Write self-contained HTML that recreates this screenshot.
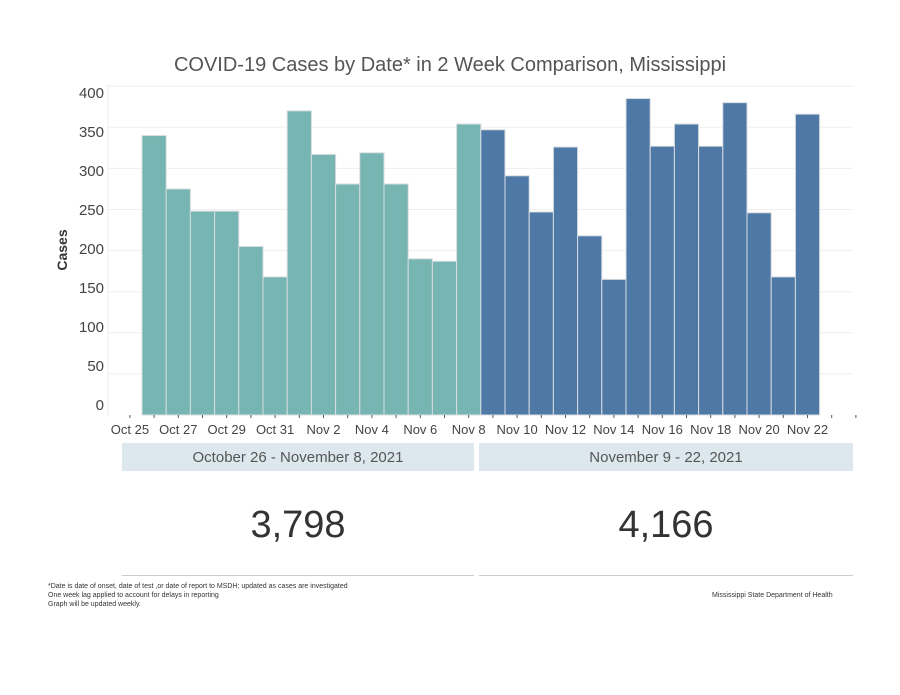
<!DOCTYPE html>
<html><head><meta charset="utf-8"><style>
body{margin:0;background:#fff;font-family:"Liberation Sans",sans-serif;}
#wrap{position:relative;width:900px;height:695px;overflow:hidden;}
.t{position:absolute;color:#555;}
</style></head><body>
<div id="wrap">
<div class="t" style="left:0;width:900px;top:54px;text-align:center;font-size:20px;color:#555;">COVID-19 Cases by Date* in 2 Week Comparison, Mississippi</div>
<svg id="chart" width="900" height="440" style="position:absolute;left:0;top:0"></svg>
<div class="t" style="left:122px;top:443px;width:352px;height:28px;background:#dde8ee;text-align:center;line-height:30px;font-size:15px;">October 26 - November 8, 2021</div>
<div class="t" style="left:479px;top:443px;width:374px;height:28px;background:#dde8ee;text-align:center;line-height:30px;font-size:15px;">November 9 - 22, 2021</div>
<div class="t" style="left:122px;top:504px;width:352px;text-align:center;font-size:38px;color:#333;">3,798</div>
<div class="t" style="left:479px;top:504px;width:374px;text-align:center;font-size:38px;color:#333;">4,166</div>
<div style="position:absolute;left:122px;top:575px;width:352px;height:1px;background:#ccc"></div>
<div style="position:absolute;left:479px;top:575px;width:374px;height:1px;background:#ccc"></div>
<div class="t" style="left:48px;top:582px;font-size:7px;line-height:9px;color:#333;">*Date is date of onset, date of test ,or date of report to MSDH; updated as cases are investigated<br>One week lag applied to account for delays in reporting<br>Graph will be updated weekly.</div>
<div class="t" style="left:712px;top:592px;font-size:7px;color:#333;">Mississippi State Department of Health</div>
</div>
<script>
const dates=["Oct 26","Oct 27","Oct 28","Oct 29","Oct 30","Oct 31","Nov 1","Nov 2","Nov 3","Nov 4","Nov 5","Nov 6","Nov 7","Nov 8","Nov 9","Nov 10","Nov 11","Nov 12","Nov 13","Nov 14","Nov 15","Nov 16","Nov 17","Nov 18","Nov 19","Nov 20","Nov 21","Nov 22"];
const cases=[340,275,248,248,205,168,370,317,281,319,281,190,187,354,347,291,247,326,218,165,385,327,354,327,380,246,168,366];
const period=[0,0,0,0,0,0,0,0,0,0,0,0,0,0,1,1,1,1,1,1,1,1,1,1,1,1,1,1];
const yTicks=[0,50,100,150,200,250,300,350,400];
const xLabels=["Oct 25","Oct 27","Oct 29","Oct 31","Nov 2","Nov 4","Nov 6","Nov 8","Nov 10","Nov 12","Nov 14","Nov 16","Nov 18","Nov 20","Nov 22"];
const NS="http://www.w3.org/2000/svg";
const svg=document.getElementById('chart');
const base=415,k=0.822,x0=142,bw=24.2;
const y=v=>base-v*k;
const yl=v=>405-v*0.78; // label positions (Tableau offset labels)
const x=i=>x0+i*bw;
function mk(t,a){const e=document.createElementNS(NS,t);for(const n in a)e.setAttribute(n,a[n]);svg.appendChild(e);return e;}
yTicks.forEach(v=>{
 if(v>0){const g=mk('line',{x1:108,x2:853,y1:y(v),y2:y(v),stroke:'#efefef'});
 
 }
 const t=mk('text',{x:104,y:yl(v)+5,'text-anchor':'end','font-size':15,fill:'#444','font-family':'Liberation Sans'});
 t.textContent=v;
 
 
});
const ax=mk('line',{x1:108,x2:108,y1:84,y2:415,stroke:'#eee'});


cases.forEach((v,i)=>{
 const r=mk('rect',{x:x(i),y:y(v),width:bw,height:v*k,fill:period[i]?'#4e79a7':'#76b5b1',stroke:'#d8dde0','stroke-width':1});
 
 
});
for(let i=-1;i<=29;i++){
 const tk=mk('line',{x1:x(i)+bw/2,x2:x(i)+bw/2,y1:base,y2:base+3,stroke:'#555'});
 
 
}
xLabels.forEach((l,j)=>{
 const t=mk('text',{x:x(j*2-1)+bw/2,y:434,'text-anchor':'middle','font-size':13,fill:'#444','font-family':'Liberation Sans'});
 t.textContent=l;
 
 
});
const yt=mk('text',{x:0,y:0,transform:'translate(67,250) rotate(-90)','text-anchor':'middle','font-size':14,'font-weight':'bold',fill:'#333','font-family':'Liberation Sans'});
yt.textContent='Cases';


</script>
</body></html>
